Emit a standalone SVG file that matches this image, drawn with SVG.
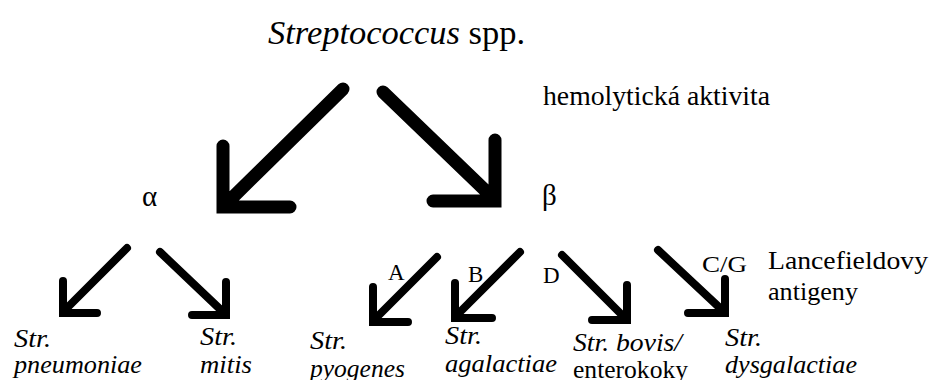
<svg xmlns="http://www.w3.org/2000/svg" width="933" height="380" viewBox="0 0 933 380" font-family="Liberation Serif">
<style>
.big{fill:none;stroke:#000;stroke-width:13;stroke-linecap:round;stroke-linejoin:miter}
.sm{fill:none;stroke:#000;stroke-width:8;stroke-linecap:round;stroke-linejoin:miter}
</style>
<rect width="933" height="380" fill="#fff"/>
<g id="genus"><text x="268" y="44" font-size="33" font-family="Liberation Serif" textLength="257" lengthAdjust="spacingAndGlyphs"><tspan font-style="italic">Streptococcus</tspan> spp.</text></g>
<g id="label-hemo"><text x="543" y="105" font-size="27" font-family="Liberation Serif" textLength="227" lengthAdjust="spacingAndGlyphs">hemolytická aktivita</text></g>
<g id="alpha"><text x="142" y="206" font-size="29" font-family="Liberation Serif">α</text></g>
<g id="beta"><text x="542" y="205" font-size="29" font-family="Liberation Serif">β</text></g>
<g id="label-lance" font-size="26" font-family="Liberation Serif"><text x="768" y="269" textLength="160" lengthAdjust="spacingAndGlyphs">Lancefieldovy</text><text x="768" y="300" textLength="90" lengthAdjust="spacingAndGlyphs">antigeny</text></g>
<g id="pneumoniae" font-size="25" font-style="italic" font-family="Liberation Serif"><text x="14" y="347" textLength="37" lengthAdjust="spacingAndGlyphs">Str.</text><text x="14" y="373" textLength="128" lengthAdjust="spacingAndGlyphs">pneumoniae</text></g>
<g id="mitis" font-size="25" font-style="italic" font-family="Liberation Serif"><text x="200" y="345" textLength="37" lengthAdjust="spacingAndGlyphs">Str.</text><text x="200" y="373" textLength="52" lengthAdjust="spacingAndGlyphs">mitis</text></g>
<g id="pyogenes" font-size="25" font-style="italic" font-family="Liberation Serif"><text x="310" y="349" textLength="37" lengthAdjust="spacingAndGlyphs">Str.</text><text x="310" y="377" textLength="95" lengthAdjust="spacingAndGlyphs">pyogenes</text></g>
<g id="agalactiae" font-size="25" font-style="italic" font-family="Liberation Serif"><text x="445" y="344" textLength="37" lengthAdjust="spacingAndGlyphs">Str.</text><text x="445" y="372" textLength="112" lengthAdjust="spacingAndGlyphs">agalactiae</text></g>
<g id="bovis" font-size="25" font-family="Liberation Serif"><text x="573" y="351" font-style="italic" textLength="109" lengthAdjust="spacingAndGlyphs">Str. bovis/</text><text x="573" y="378" textLength="115" lengthAdjust="spacingAndGlyphs">enterokoky</text></g>
<g id="dysgalactiae" font-size="25" font-style="italic" font-family="Liberation Serif"><text x="725" y="346" textLength="37" lengthAdjust="spacingAndGlyphs">Str.</text><text x="725" y="373" textLength="132" lengthAdjust="spacingAndGlyphs">dysgalactiae</text></g>
<g id="connectors">
<path class="big" d="M343,89 L228,202 M223,146 V207 H290"/>
<path class="big" d="M383,92 L490,195 M495,140 V201 H433"/>
<path class="sm" d="M127,248 L66,309 M63,281 V313 H97"/>
<path class="sm" d="M160,252 L222,311 M226,282 V315 H192"/>
<path class="sm" d="M437,257 L376,318 M373,287 V322 H408"/>
<path class="sm" d="M520,252 L458,314 M455,283 V318 H492"/>
<path class="sm" d="M562,255 L623,316 M627,285 V320 H592"/>
<path class="sm" d="M658,250 L721,309 M725,279 V313 H688"/>
<g font-family="Liberation Serif" font-size="23">
<text x="388" y="280">A</text>
<text x="468" y="282">B</text>
<text x="543" y="283">D</text>
<text x="702" y="272" textLength="45" lengthAdjust="spacingAndGlyphs">C/G</text>
</g>
</g>
</svg>
